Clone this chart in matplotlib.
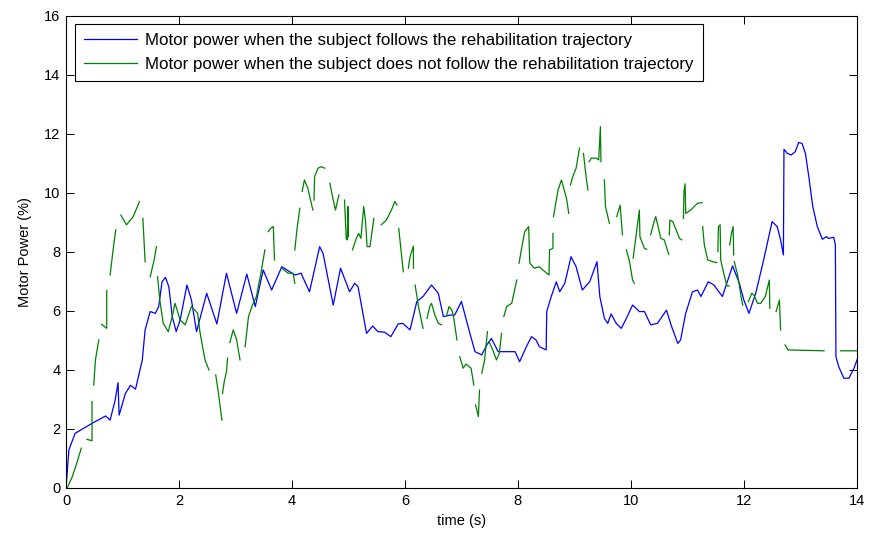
import matplotlib.pyplot as plt
import numpy as np

nan = np.nan

# blue: subject follows the trajectory
blue_t = [0, 0.05, 0.16, 0.46, 0.70, 0.78, 0.87, 0.92, 0.94, 1.05, 1.14, 1.23, 1.35, 1.40, 1.49,
          1.58, 1.64, 1.70, 1.76, 1.82, 1.88, 1.95, 2.02, 2.14, 2.22, 2.31, 2.49, 2.67, 2.84, 3.02,
          3.20, 3.35, 3.49, 3.64, 3.82, 3.96, 4.05, 4.16, 4.31, 4.49, 4.55, 4.73, 4.86, 5.02, 5.11,
          5.17, 5.32, 5.43, 5.52, 5.64, 5.75, 5.88, 5.96, 6.09, 6.21, 6.32, 6.47, 6.59, 6.68, 6.80,
          6.88, 7.00, 7.15, 7.24, 7.36, 7.45, 7.53, 7.65, 7.86, 7.95, 8.03, 8.15, 8.24, 8.32, 8.38,
          8.50, 8.51, 8.59, 8.68, 8.74, 8.83, 8.94, 9.03, 9.14, 9.27, 9.40, 9.45, 9.53, 9.59, 9.65,
          9.74, 9.83, 9.92, 10.03, 10.15, 10.24, 10.35, 10.47, 10.63, 10.71, 10.83, 10.88, 10.97,
          11.09, 11.18, 11.24, 11.37, 11.47, 11.62, 11.80, 11.92, 12.00, 12.09, 12.21, 12.35, 12.50,
          12.59, 12.65, 12.70, 12.71, 12.77, 12.84, 12.91, 12.97, 13.03, 13.09, 13.15, 13.22, 13.30,
          13.39, 13.46, 13.50, 13.59, 13.62, 13.63, 13.68, 13.77, 13.86, 13.95, 14.02]
blue_y = [0, 1.29, 1.85, 2.19, 2.44, 2.30, 2.98, 3.57, 2.47, 3.20, 3.48, 3.35, 4.34, 5.36, 5.98,
          5.92, 6.15, 6.99, 7.14, 6.82, 5.81, 5.30, 5.69, 6.88, 6.37, 5.30, 6.60, 5.56, 7.28, 5.92,
          7.25, 6.15, 7.39, 6.71, 7.50, 7.33, 7.22, 7.28, 6.65, 8.18, 7.95, 6.20, 7.45, 6.65, 6.94,
          6.82, 5.24, 5.49, 5.30, 5.28, 5.13, 5.56, 5.58, 5.36, 6.32, 6.49, 6.88, 6.60, 5.81, 5.86,
          5.86, 6.32, 5.24, 4.62, 4.51, 4.85, 5.07, 4.62, 4.62, 4.62, 4.28, 4.79, 5.13, 5.02, 4.79,
          4.68, 5.98, 6.49, 6.99, 6.65, 6.94, 7.84, 7.50, 6.71, 6.99, 7.67, 6.49, 5.75, 5.58, 5.90,
          5.58, 5.41, 5.75, 6.20, 5.98, 5.98, 5.53, 5.58, 6.03, 5.53, 4.90, 5.02, 5.92,
          6.65, 6.71, 6.49, 6.99, 6.88, 6.49, 7.53, 6.94, 6.37, 5.92, 6.60, 7.73, 9.03,
          8.86, 8.41, 7.90, 11.48, 11.34, 11.29, 11.40, 11.71, 11.68, 11.34, 10.55, 9.54, 8.86,
          8.43, 8.52, 8.46, 8.50, 8.24, 4.45, 4.11, 3.72, 3.72, 4.06, 4.43]

# green: subject does not follow (broken segments, nan = gap)
green_t = [0.02, 0.11, 0.19, 0.27, nan, 0.37, 0.46, 0.46, nan, 0.49, 0.52, 0.58, nan,
           0.63, 0.72, 0.72, nan, 0.78, 0.84, 0.88, nan, 0.97, 1.07, 1.19, 1.30, nan,
           1.36, 1.40, nan, 1.49, 1.56, 1.60, nan,
           1.62, 1.66, 1.72, 1.81, 1.88, 1.93, 2.02, 2.11, 2.22, 2.33, 2.37, 2.46, 2.53, nan,
           2.65, 2.69, 2.76, nan, 2.77, 2.80, 2.84, 2.86, nan, 2.90, 2.96, 3.02, 3.08, nan,
           3.17, 3.23, 3.30, 3.37, 3.45, 3.52, nan, 3.58, 3.62, 3.67, 3.69, nan,
           3.82, 3.93, 4.02, 4.05, nan, 4.05, 4.09, 4.14, nan, 4.18, 4.22, 4.28, 4.37, nan,
           4.39, 4.40, 4.46, 4.52, 4.58, nan, 4.67, 4.73, 4.77, 4.83, nan,
           4.93, 4.96, 4.98, 4.99, 5.00, nan,
           5.07, 5.14, 5.18, 5.22, 5.27, 5.30, 5.33, 5.38, 5.45, nan,
           5.58, 5.67, 5.76, 5.82, 5.86, nan, 5.89, 5.93, 5.97, nan, 6.06, 6.09, 6.15, 6.15, nan,
           6.18, 6.24, 6.32, nan, 6.39, 6.44, 6.47, 6.53, 6.59, 6.65, nan,
           6.74, 6.78, 6.83, 6.86, 6.92, nan, 6.97, 7.03, 7.08, 7.12, 7.17, 7.22, nan,
           7.25, 7.30, 7.32, nan, 7.36, 7.41, 7.46, nan, 7.49, 7.55, 7.62, 7.67, 7.71, nan,
           7.75, 7.80, 7.89, 7.98, nan,
           8.02, 8.06, 8.12, 8.19, 8.21, 8.29, 8.38, 8.44, 8.55, 8.56, 8.62, 8.62, nan,
           8.63, 8.71, 8.77, 8.86, 8.90, nan, 8.93, 8.97, 9.03, 9.09, nan, 9.16, 9.21, 9.24, nan,
           9.26, 9.30, 9.39, 9.43, 9.46, 9.47, nan, 9.53, 9.55, 9.62, nan, 9.75, 9.81, 9.85, nan,
           9.92, 9.97, 10.03, 10.06, nan, 10.04, 10.09, 10.14, 10.15, 10.16, 10.24, 10.28, nan,
           10.35, 10.41, 10.44, 10.53, 10.59, 10.67, nan, 10.68, 10.69, 10.74, 10.80, 10.86, 10.90, nan,
           10.93, 10.94, 10.96, 10.97, 11.06, 11.12, 11.18, 11.26, nan,
           11.27, 11.30, 11.36, 11.45, 11.52, nan,
           11.54, 11.55, 11.58, 11.59, 11.65, 11.70, 11.74, nan, 11.75, 11.78, 11.81, 11.82, nan,
           11.83, 11.89, 11.95, 11.98, nan,
           12.08, 12.14, 12.18, 12.24, 12.30, 12.38, 12.45, 12.46, nan,
           12.57, 12.63, 12.65, nan, 12.73, 12.78, 13.42, nan, 13.71, 14.0]
green_y = [0, 0.38, 0.84, 1.35, nan, 1.65, 1.60, 2.93, nan, 3.49, 4.34, 5.02, nan,
           5.55, 5.41, 6.69, nan, 7.22, 8.18, 8.75, nan, 9.25, 8.92, 9.20, 9.71, nan,
           9.14, 7.67, nan, 7.16, 7.73, 8.18, nan,
           7.16, 6.37, 5.58, 5.30, 5.81, 6.26, 5.69, 5.53, 6.15, 5.92, 5.30, 4.34, 4.00, nan,
           3.83, 3.32, 2.30, nan, 3.20, 3.60, 3.94, 4.40, nan, 4.93, 5.36, 5.02, 4.34, nan,
           4.79, 5.81, 6.20, 6.49, 7.28, 8.07, nan, 8.69, 8.80, 8.86, 7.73, nan,
           7.45, 7.28, 7.28, 6.94, nan, 8.07, 8.80, 9.48, nan, 10.05, 10.44, 10.16, 9.42, nan,
           9.76, 10.55, 10.84, 10.89, 10.84, nan, 10.33, 9.76, 9.42, 9.93, nan,
           9.76, 8.46, 8.41, 9.54, 8.52, nan,
           8.07, 8.46, 8.63, 8.46, 9.54, 9.08, 8.18, 8.18, 9.14, nan,
           8.92, 9.08, 9.42, 9.71, 9.59, nan, 8.80, 8.07, 7.33, nan, 7.45, 7.84, 8.20, 7.45, nan,
           6.88, 6.15, 5.41, nan, 5.75, 6.15, 6.26, 5.86, 5.58, 5.53, nan,
           5.86, 6.15, 6.03, 5.81, 5.02, nan, 4.45, 4.06, 4.20, 4.14, 4.06, 3.49, nan,
           2.81, 2.42, 3.32, nan, 3.89, 4.34, 5.30, nan, 4.96, 4.70, 4.34, 4.56, 5.24, nan,
           5.81, 6.15, 6.26, 7.05, nan,
           7.62, 8.07, 8.69, 8.86, 7.62, 7.45, 7.50, 7.39, 7.22, 8.07, 8.12, 8.63, nan,
           9.20, 10.10, 10.44, 9.82, 9.31, nan, 10.27, 10.55, 10.84, 11.52, nan, 11.34, 10.50, 10.10, nan,
           11.06, 11.18, 11.18, 11.12, 12.25, 11.06, nan, 10.44, 9.54, 8.97, nan, 9.20, 9.59, 8.58, nan,
           8.07, 7.73, 7.05, 6.94, nan, 7.79, 8.52, 9.25, 9.42, 8.52, 8.12, 8.09, nan,
           8.58, 9.03, 9.20, 8.46, 8.41, 7.92, nan, 8.58, 9.08, 9.03, 8.75, 8.46, 8.41, nan,
           9.14, 10.05, 10.31, 9.31, 9.42, 9.54, 9.65, 9.67, nan,
           8.86, 8.24, 7.73, 7.67, 7.64, nan,
           8.01, 8.86, 8.92, 7.73, 7.22, 6.85, 6.85, nan, 8.24, 8.63, 8.86, 7.90, nan,
           7.67, 7.22, 6.49, 6.20, nan,
           6.32, 6.60, 6.54, 6.26, 6.26, 6.49, 7.05, 6.09, nan,
           5.98, 6.37, 5.36, nan, 4.85, 4.68, 4.65, nan, 4.65, 4.65]

labels = ['Motor power when the subject follows the rehabilitation trajectory',
          'Motor power when the subject does not follow the rehabilitation trajectory']

plt.rcParams['font.family'] = ['Liberation Sans', 'DejaVu Sans']

fig = plt.figure(figsize=(8.69, 5.36), dpi=100)
ax = fig.add_axes([0.076, 0.0896, 0.910, 0.8806])

ax.plot(blue_t, blue_y, color=(0, 0, 1), lw=0.9, label=labels[0])
ax.plot(green_t, green_y, color=(0, 0.5, 0), lw=0.9, label=labels[1])

ax.set_xlim(0, 14)
ax.set_ylim(0, 16)
ax.set_xticks(np.arange(0, 15, 2))
ax.set_yticks(np.arange(0, 17, 2))
ax.tick_params(direction='in', top=True, right=True, length=6, width=0.7,
               labelsize=10.5, colors='black', pad=4)
for s in ax.spines.values():
    s.set_linewidth(0.8)
ax.set_xlabel('time (s)', fontsize=10.5, labelpad=5)
ax.set_ylabel('Motor Power (%)', fontsize=10.5, labelpad=9)

leg = ax.legend(loc='upper left', bbox_to_anchor=(0.011, 0.983), fontsize=12.2,
                fancybox=False, edgecolor='black', framealpha=1, handlelength=3.1,
                borderpad=0.55, labelspacing=0.5, handletextpad=0.5, borderaxespad=0)
leg.get_frame().set_linewidth(0.8)

fig.savefig('out.png', dpi=100)
